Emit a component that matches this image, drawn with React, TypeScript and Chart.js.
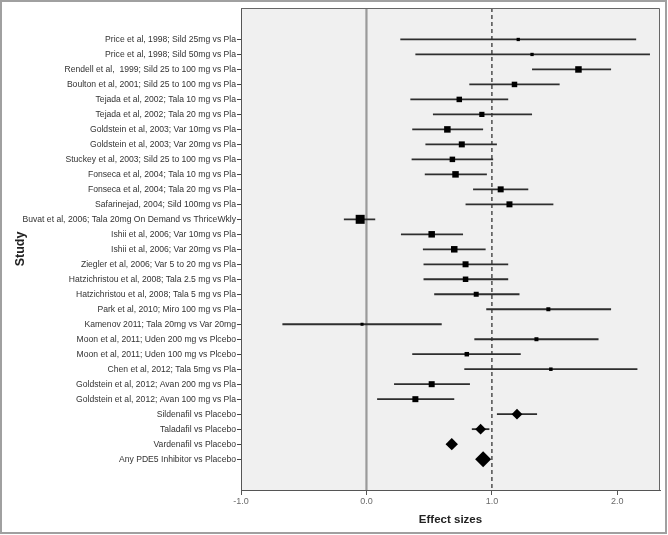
import React, { useEffect, useRef } from "react";
import { Chart, registerables } from "chart.js";

Chart.register(...registerables);

const studies = [
  "Price et al, 1998; Sild 25mg vs Pla",
  "Price et al, 1998; Sild 50mg vs Pla",
  "Rendell et al,  1999; Sild 25 to 100 mg vs Pla",
  "Boulton et al, 2001; Sild 25 to 100 mg vs Pla",
  "Tejada et al, 2002; Tala 10 mg vs Pla",
  "Tejada et al, 2002; Tala 20 mg vs Pla",
  "Goldstein et al, 2003; Var 10mg vs Pla",
  "Goldstein et al, 2003; Var 20mg vs Pla",
  "Stuckey et al, 2003; Sild 25 to 100 mg vs Pla",
  "Fonseca et al, 2004; Tala 10 mg vs Pla",
  "Fonseca et al, 2004; Tala 20 mg vs Pla",
  "Safarinejad, 2004; Sild 100mg vs Pla",
  "Buvat et al, 2006; Tala 20mg On Demand vs ThriceWkly",
  "Ishii et al, 2006; Var 10mg vs Pla",
  "Ishii et al, 2006; Var 20mg vs Pla",
  "Ziegler et al, 2006; Var 5 to 20 mg vs Pla",
  "Hatzichristou et al, 2008; Tala 2.5 mg vs Pla",
  "Hatzichristou et al, 2008; Tala 5 mg vs Pla",
  "Park et al, 2010; Miro 100 mg vs Pla",
  "Kamenov 2011; Tala 20mg vs Var 20mg",
  "Moon et al, 2011; Uden 200 mg vs Plcebo",
  "Moon et al, 2011; Uden 100 mg vs Plcebo",
  "Chen et al, 2012; Tala 5mg vs Pla",
  "Goldstein et al, 2012; Avan 200 mg vs Pla",
  "Goldstein et al, 2012; Avan 100 mg vs Pla",
  "Sildenafil vs Placebo",
  "Taladafil vs Placebo",
  "Vardenafil vs Placebo",
  "Any PDE5 Inhibitor vs Placebo",
];

const estimates = [
  1.21, 1.32, 1.69, 1.18, 0.74, 0.92, 0.645, 0.76, 0.685, 0.71, 1.07, 1.14,
  -0.05, 0.52, 0.7, 0.79, 0.79, 0.875, 1.45, -0.035, 1.355, 0.8, 1.47, 0.52,
  0.39, 1.2, 0.91, 0.68, 0.93,
];

const lower = [
  0.27, 0.39, 1.32, 0.82, 0.35, 0.53, 0.365, 0.47, 0.36, 0.465, 0.85, 0.79,
  -0.18, 0.275, 0.45, 0.455, 0.455, 0.54, 0.955, -0.67, 0.86, 0.365, 0.78,
  0.22, 0.085, 1.04, 0.84, 0.64, 0.88,
];

const upper = [
  2.15, 2.26, 1.95, 1.54, 1.13, 1.32, 0.93, 1.04, 1.01, 0.96, 1.29, 1.49, 0.07,
  0.77, 0.95, 1.13, 1.13, 1.22, 1.95, 0.6, 1.85, 1.23, 2.16, 0.825, 0.7, 1.36,
  0.98, 0.72, 0.98,
];

// marker size (study weight), px across
const weights = [
  3.3, 3.3, 6.5, 5.5, 5.5, 5.2, 6.5, 6, 5.5, 6.5, 6, 6, 9, 6.5, 6.5, 6, 5.5,
  5, 4, 3, 4, 4.5, 3.5, 6, 6,
];

// pooled estimates, diamond half-width
const pooledSizes = [5.4, 5.4, 6.2, 8];

const xTicks = [-1, 0, 1, 2];
const xMin = -1;
const xMax = 2.34;
const yMin = -2.1;
const yMax = 30.06;
const nullLine = 0;
const refLine = 1;

export default function App() {
  const ref = useRef<HTMLCanvasElement | null>(null);

  useEffect(() => {
    if (!ref.current) return;
    const font = "'Liberation Sans', Arial, sans-serif";
    const nStudies = weights.length;

    const ciSets = studies.map((_, i) => ({
      type: "scatter" as const,
      data: [
        { x: lower[i], y: i },
        { x: upper[i], y: i },
      ],
      showLine: true,
      borderColor: "#2e2e2e",
      borderWidth: 1.8,
      pointRadius: 0,
      order: 1,
    }));

    const studyPoints = {
      type: "scatter" as const,
      data: studies.slice(0, nStudies).map((_, i) => ({ x: estimates[i], y: i })),
      pointStyle: "rect",
      pointRadius: weights.map((w) => w / Math.SQRT2),
      backgroundColor: "#000000",
      borderWidth: 0,
      order: 0,
    };

    const pooledPoints = {
      type: "scatter" as const,
      data: pooledSizes.map((_, j) => ({
        x: estimates[nStudies + j],
        y: nStudies + j,
      })),
      pointStyle: "rectRot",
      pointRadius: pooledSizes,
      backgroundColor: "#000000",
      borderWidth: 0,
      order: 0,
    };

    const zeroLine = {
      type: "scatter" as const,
      data: [
        { x: nullLine, y: yMin },
        { x: nullLine, y: yMax },
      ],
      showLine: true,
      borderColor: "#9a9a9a",
      borderWidth: 2.2,
      pointRadius: 0,
      order: 2,
    };

    const oneLine = {
      type: "scatter" as const,
      data: [
        { x: refLine, y: yMin },
        { x: refLine, y: yMax },
      ],
      showLine: true,
      borderColor: "#444444",
      borderWidth: 1.4,
      borderDash: [4, 3],
      pointRadius: 0,
      order: 2,
    };

    const framePlugin = {
      id: "frame",
      beforeDraw(chart: any) {
        const { ctx, chartArea } = chart;
        ctx.save();
        ctx.fillStyle = "#ffffff";
        ctx.fillRect(0, 0, chart.width, chart.height);
        ctx.strokeStyle = "#a0a0a0";
        ctx.lineWidth = 2;
        ctx.strokeRect(1, 1, chart.width - 3, chart.height - 3);
        ctx.fillStyle = "#f0f0f0";
        ctx.fillRect(
          chartArea.left,
          chartArea.top,
          chartArea.right - chartArea.left,
          chartArea.bottom - chartArea.top
        );
        ctx.restore();
      },
      afterDraw(chart: any) {
        const { ctx, chartArea } = chart;
        ctx.save();
        ctx.strokeStyle = "#666666";
        ctx.lineWidth = 1;
        ctx.beginPath();
        ctx.moveTo(chartArea.left, chartArea.top + 0.5);
        ctx.lineTo(chartArea.right - 0.5, chartArea.top + 0.5);
        ctx.lineTo(chartArea.right - 0.5, chartArea.bottom);
        ctx.stroke();
        ctx.restore();
      },
    };

    const chart = new Chart(ref.current, {
      type: "scatter",
      data: {
        datasets: [studyPoints, pooledPoints, ...ciSets, zeroLine, oneLine] as any,
      },
      options: {
        animation: false,
        responsive: false,
        layout: { padding: { top: 5, right: 7, left: 0, bottom: 0 } },
        plugins: {
          legend: { display: false },
          tooltip: { enabled: false },
        },
        scales: {
          x: {
            type: "linear",
            min: xMin,
            max: xMax,
            afterBuildTicks: (scale: any) => {
              scale.ticks = xTicks.map((v) => ({ value: v }));
            },
            afterFit: (scale: any) => {
              scale.height = 45;
            },
            grid: {
              display: true,
              drawOnChartArea: false,
              drawTicks: true,
              tickLength: 5,
              color: "#555555",
            },
            border: { display: true, color: "#555555", width: 1 },
            ticks: {
              color: "#6a6a6a",
              font: { family: font, size: 9 },
              padding: 1,
              maxRotation: 0,
              callback: (v: any) => Number(v).toFixed(1),
            },
            title: {
              display: true,
              text: "Effect sizes",
              color: "#222222",
              font: { family: font, size: 11.5, weight: "bold" },
              padding: { top: 0, bottom: 8 },
            },
          },
          y: {
            type: "linear",
            reverse: true,
            min: yMin,
            max: yMax,
            afterBuildTicks: (scale: any) => {
              scale.ticks = studies.map((_, i) => ({ value: i }));
            },
            afterFit: (scale: any) => {
              scale.width = 241;
            },
            grid: {
              display: true,
              drawOnChartArea: false,
              drawTicks: true,
              tickLength: 4,
              color: "#444444",
            },
            border: { display: true, color: "#555555", width: 1 },
            ticks: {
              autoSkip: false,
              color: "#333333",
              font: { family: font, size: 8.6 },
              padding: 1,
              callback: (_v: any, i: number) => studies[i],
            },
            title: {
              display: true,
              text: "Study",
              color: "#222222",
              font: { family: font, size: 12.5, weight: "bold" },
              padding: { top: 13, bottom: 0 },
            },
          },
        },
      },
      plugins: [framePlugin],
    });

    return () => chart.destroy();
  }, []);

  return (
    <div style={{ position: "absolute", left: 0, top: 0, width: 668, height: 535 }}>
      <canvas ref={ref} width={668} height={535} style={{ display: "block" }} />
    </div>
  );
}
